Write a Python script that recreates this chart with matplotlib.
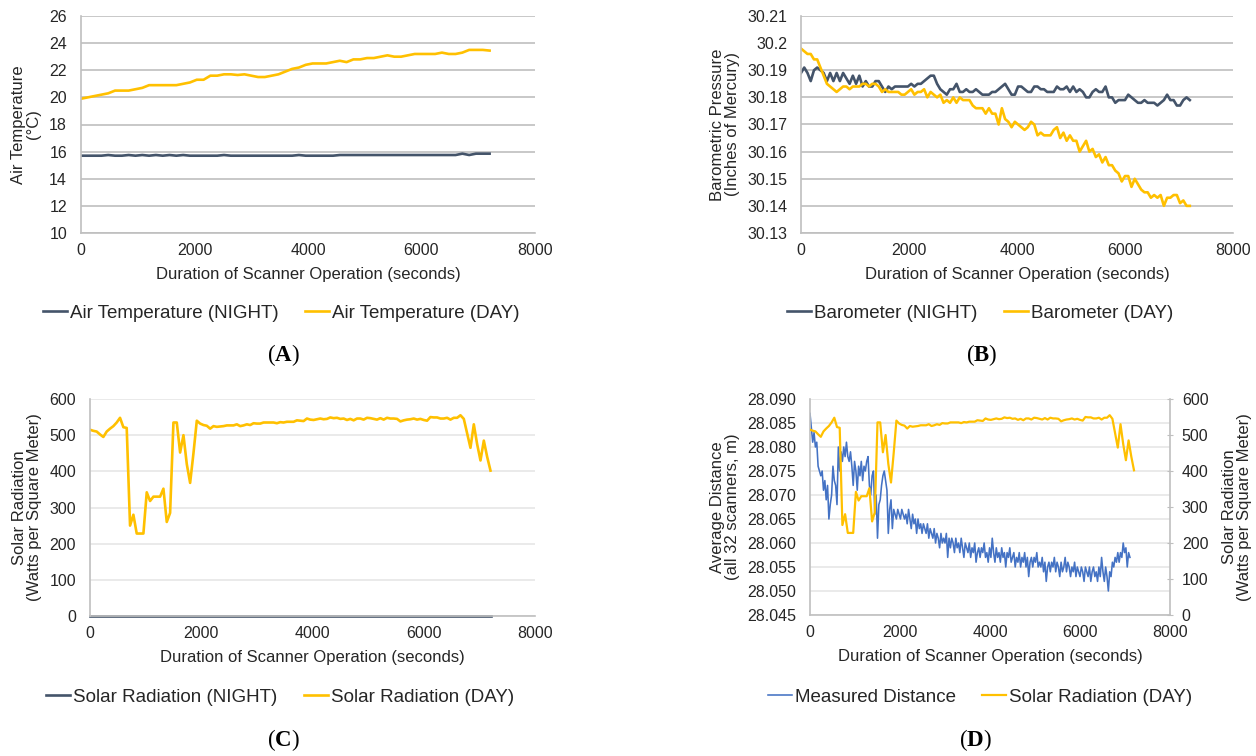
import numpy as np
import matplotlib
matplotlib.use("Agg")
import matplotlib.pyplot as plt
from matplotlib.ticker import FuncFormatter

plt.rcParams["font.family"] = ["Liberation Sans", "DejaVu Sans"]
plt.rcParams["mathtext.fontset"] = "custom"
plt.rcParams["mathtext.rm"] = "Liberation Serif"
plt.rcParams["mathtext.bf"] = "Liberation Serif:bold"

NIGHT = "#44546A"
DAY = "#FFC000"
BLUE = "#4472C4"
TXT = "#262626"

# ---- (A) air temperature, sampled every 120 s ----
t_air = np.arange(0, 7201, 120)
air_day = [19.9, 20.0, 20.1, 20.2, 20.3, 20.5, 20.5, 20.5, 20.6, 20.7,
           20.9, 20.9, 20.9, 20.9, 20.9, 21.0, 21.1, 21.3, 21.3, 21.6,
           21.6, 21.7, 21.7, 21.65, 21.7, 21.6, 21.5, 21.5, 21.6, 21.7,
           21.9, 22.1, 22.2, 22.4, 22.5, 22.5, 22.5, 22.6, 22.7, 22.6,
           22.8, 22.8, 22.9, 22.9, 23.0, 23.1, 23.0, 23.0, 23.1, 23.2,
           23.2, 23.2, 23.2, 23.3, 23.2, 23.2, 23.3, 23.5, 23.5, 23.5,
           23.45]
air_night = [15.7, 15.7, 15.7, 15.7, 15.75, 15.7, 15.7, 15.75, 15.7, 15.75,
             15.7, 15.75, 15.7, 15.75, 15.7, 15.75, 15.7, 15.7, 15.7, 15.7,
             15.7, 15.75, 15.7, 15.7, 15.7, 15.7, 15.7, 15.7, 15.7, 15.7,
             15.7, 15.7, 15.75, 15.7, 15.7, 15.7, 15.7, 15.7, 15.75, 15.75,
             15.75, 15.75, 15.75, 15.75, 15.75, 15.75, 15.75, 15.75, 15.75, 15.75,
             15.75, 15.75, 15.75, 15.75, 15.75, 15.75, 15.85, 15.75, 15.85, 15.85,
             15.85]

# ---- (B) barometer, sampled every 60 s ----
t_baro = np.arange(0, 7201, 60)
baro_night = [30.189, 30.191, 30.189, 30.186, 30.190, 30.191, 30.190, 30.189, 30.186, 30.189,
              30.186, 30.189, 30.186, 30.189, 30.187, 30.185, 30.188, 30.185, 30.188, 30.184,
              30.186, 30.184, 30.184, 30.186, 30.186, 30.184, 30.182, 30.184, 30.183, 30.184,
              30.184, 30.184, 30.184, 30.184, 30.185, 30.184, 30.185, 30.185, 30.186, 30.187,
              30.188, 30.188, 30.185, 30.183, 30.182, 30.181, 30.183, 30.183, 30.185, 30.182,
              30.182, 30.183, 30.182, 30.182, 30.183, 30.182, 30.181, 30.181, 30.181, 30.182,
              30.182, 30.183, 30.184, 30.185, 30.183, 30.181, 30.181, 30.184, 30.184, 30.183,
              30.182, 30.182, 30.184, 30.184, 30.183, 30.183, 30.182, 30.182, 30.182, 30.184,
              30.183, 30.183, 30.184, 30.182, 30.184, 30.182, 30.183, 30.182, 30.180, 30.180,
              30.182, 30.183, 30.182, 30.182, 30.184, 30.180, 30.180, 30.178, 30.179, 30.179,
              30.179, 30.181, 30.180, 30.179, 30.178, 30.178, 30.179, 30.178, 30.178, 30.178,
              30.177, 30.178, 30.179, 30.181, 30.179, 30.179, 30.177, 30.177, 30.179, 30.180,
              30.179]
baro_day = [30.198, 30.197, 30.196, 30.196, 30.194, 30.194, 30.191, 30.188, 30.185, 30.184,
            30.183, 30.182, 30.183, 30.184, 30.184, 30.183, 30.184, 30.184, 30.184, 30.185,
            30.185, 30.184, 30.185, 30.185, 30.184, 30.182, 30.183, 30.182, 30.182, 30.182,
            30.182, 30.181, 30.181, 30.182, 30.183, 30.181, 30.182, 30.182, 30.183, 30.180,
            30.182, 30.181, 30.180, 30.181, 30.178, 30.179, 30.178, 30.180, 30.178, 30.180,
            30.179, 30.179, 30.179, 30.177, 30.176, 30.176, 30.176, 30.174, 30.176, 30.174,
            30.174, 30.170, 30.176, 30.172, 30.171, 30.169, 30.171, 30.170, 30.169, 30.168,
            30.169, 30.171, 30.170, 30.166, 30.167, 30.166, 30.166, 30.166, 30.168, 30.169,
            30.165, 30.167, 30.164, 30.166, 30.164, 30.164, 30.160, 30.162, 30.164, 30.160,
            30.161, 30.158, 30.159, 30.156, 30.158, 30.155, 30.155, 30.153, 30.152, 30.149,
            30.151, 30.151, 30.147, 30.150, 30.148, 30.146, 30.145, 30.145, 30.143, 30.144,
            30.143, 30.144, 30.140, 30.143, 30.143, 30.144, 30.144, 30.141, 30.142, 30.140,
            30.140]

# ---- (C)/(D) solar radiation, sampled every 60 s ----
t_solar = np.arange(0, 7201, 60)
solar_day = [515, 512, 510, 502, 495, 510, 518, 525, 535, 548,
             522, 520, 250, 280, 228, 228, 228, 342, 318, 330,
             330, 330, 352, 260, 285, 535, 535, 452, 500, 420,
             368, 450, 540, 532, 528, 526, 518, 525, 523, 524,
             525, 527, 527, 527, 530, 525, 527, 530, 528, 533,
             532, 532, 535, 535, 535, 535, 533, 536, 535, 537,
             537, 537, 541, 540, 539, 546, 543, 542, 544, 546,
             544, 545, 549, 547, 548, 545, 546, 542, 545, 541,
             546, 546, 543, 548, 547, 545, 543, 547, 543, 548,
             546, 546, 545, 538, 541, 543, 544, 546, 543, 545,
             542, 540, 550, 549, 549, 546, 546, 548, 543, 548,
             548, 555, 545, 505, 465, 530, 475, 430, 485, 440,
             402]
solar_night = [0] * len(solar_day)

# ---- (D) measured distance, sampled every 30 s ----
t_dist = np.arange(0, 7111, 30)
dist = [28.087, 28.084, 28.081, 28.083, 28.080, 28.081, 28.076, 28.075, 28.074, 28.075,
        28.071, 28.073, 28.069, 28.072, 28.065, 28.068, 28.070, 28.076, 28.073, 28.072,
        28.068, 28.080, 28.075, 28.079, 28.077, 28.080, 28.078, 28.081, 28.078, 28.077,
        28.079, 28.076, 28.072, 28.077, 28.075, 28.071, 28.076, 28.074, 28.077, 28.073,
        28.076, 28.075, 28.077, 28.078, 28.072, 28.070, 28.074, 28.075, 28.066, 28.070,
        28.061, 28.068, 28.069, 28.072, 28.074, 28.075, 28.073, 28.071, 28.062, 28.067,
        28.069, 28.063, 28.067, 28.066, 28.065, 28.067, 28.066, 28.065, 28.067, 28.066,
        28.065, 28.066, 28.064, 28.067, 28.065, 28.063, 28.066, 28.064, 28.065, 28.062,
        28.065, 28.063, 28.064, 28.062, 28.064, 28.063, 28.062, 28.064, 28.061, 28.063,
        28.062, 28.061, 28.063, 28.060, 28.062, 28.061, 28.059, 28.062, 28.060, 28.061,
        28.060, 28.062, 28.057, 28.061, 28.059, 28.061, 28.060, 28.058, 28.061, 28.059,
        28.060, 28.058, 28.061, 28.059, 28.057, 28.060, 28.059, 28.058, 28.060, 28.057,
        28.059, 28.058, 28.060, 28.056, 28.058, 28.059, 28.057, 28.059, 28.058, 28.060,
        28.057, 28.058, 28.056, 28.059, 28.057, 28.061, 28.058, 28.056, 28.059, 28.057,
        28.058, 28.056, 28.059, 28.057, 28.058, 28.055, 28.058, 28.057, 28.059, 28.056,
        28.057, 28.058, 28.055, 28.057, 28.056, 28.058, 28.055, 28.057, 28.056, 28.058,
        28.055, 28.057, 28.053, 28.056, 28.057, 28.055, 28.057, 28.056, 28.058, 28.055,
        28.056, 28.055, 28.057, 28.054, 28.056, 28.052, 28.055, 28.056, 28.054, 28.056,
        28.055, 28.057, 28.054, 28.056, 28.055, 28.053, 28.056, 28.054, 28.055, 28.057,
        28.054, 28.056, 28.055, 28.053, 28.055, 28.054, 28.056, 28.053, 28.055, 28.054,
        28.053, 28.055, 28.054, 28.052, 28.055, 28.054, 28.053, 28.055, 28.052, 28.054,
        28.055, 28.053, 28.054, 28.052, 28.055, 28.053, 28.057, 28.054, 28.052, 28.055,
        28.053, 28.050, 28.054, 28.053, 28.056, 28.055, 28.057, 28.056, 28.058, 28.056,
        28.058, 28.057, 28.060, 28.058, 28.059, 28.055, 28.058, 28.057]

W, H = 1256, 756
fig = plt.figure(figsize=(W / 100, H / 100), dpi=100)


def box(left, top, right, bottom):
    return [left / W, 1 - bottom / H, (right - left) / W, (bottom - top) / H]


def style(ax, grid_color):
    for s in ["top", "right"]:
        ax.spines[s].set_visible(False)
    for s in ["left", "bottom"]:
        ax.spines[s].set_color("#BFBFBF")
        ax.spines[s].set_linewidth(1.2)
    ax.grid(axis="y", color=grid_color, linewidth=1.2)
    ax.set_axisbelow(True)
    ax.tick_params(length=0, labelsize=11.5, colors=TXT)
    ax.tick_params(axis="y", pad=10)
    ax.tick_params(axis="x", pad=7)
    ax.set_xlim(0, 8000)
    ax.set_xticks([0, 2000, 4000, 6000, 8000])
    ax.set_xlabel("Duration of Scanner Operation (seconds)", fontsize=12,
                  color=TXT, labelpad=6.5)


def legend(ax, handles, xc, yc):
    ax.legend(handles=handles, loc="center", ncol=2, frameon=False,
              bbox_to_anchor=(xc / W, 1 - yc / H), bbox_transform=fig.transFigure,
              fontsize=13.5, handlelength=1.3, handletextpad=0.15, columnspacing=1.4,
              labelcolor=TXT)


def panel_tag(letter, xc, yc):
    fig.text(xc / W, 1 - yc / H, r"$\mathrm{(}\mathbf{%s}\mathrm{)}$" % letter,
             ha="center", va="center", fontsize=16.5, color="black")


# (A)
ax = fig.add_axes(box(81, 16, 535, 233))
style(ax, "#BFBFBF")
n1, = ax.plot(t_air, air_night, color=NIGHT, lw=1.9, label="Air Temperature (NIGHT)")
d1, = ax.plot(t_air, air_day, color=DAY, lw=1.9, label="Air Temperature (DAY)")
ax.set_ylim(10, 26)
ax.set_yticks(range(10, 27, 2))
ax.set_ylabel("Air Temperature\n(°C)", fontsize=12, color=TXT, linespacing=1.0, labelpad=6)
legend(ax, [n1, d1], 281, 313)
panel_tag("A", 283, 355)

# (B)
ax = fig.add_axes(box(801, 16, 1233, 233))
style(ax, "#BFBFBF")
n2, = ax.plot(t_baro, baro_night, color=NIGHT, lw=1.9, label="Barometer (NIGHT)")
d2, = ax.plot(t_baro, baro_day, color=DAY, lw=1.9, label="Barometer (DAY)")
ax.set_ylim(30.13, 30.21)
ax.set_yticks(np.linspace(30.13, 30.21, 9))
ax.yaxis.set_major_formatter(FuncFormatter(lambda v, p: f"{round(v, 2):g}"))
ax.set_ylabel("Barometric Pressure\n(Inches of Mercury)", fontsize=12, color=TXT,
              linespacing=1.0, labelpad=5)
legend(ax, [n2, d2], 980, 313)
panel_tag("B", 982, 355)

# (C)
ax = fig.add_axes(box(90, 399, 535, 616))
style(ax, "#E6E6E6")
n3, = ax.plot(t_solar, solar_night, color=NIGHT, lw=1.9, clip_on=False,
              label="Solar Radiation (NIGHT)")
d3, = ax.plot(t_solar, solar_day, color=DAY, lw=1.9, label="Solar Radiation (DAY)")
ax.set_ylim(0, 600)
ax.set_yticks(range(0, 601, 100))
ax.set_ylabel("Solar Radiation\n(Watts per Square Meter)", fontsize=12, color=TXT,
              linespacing=1.0, labelpad=5)
legend(ax, [n3, d3], 280, 697)
panel_tag("C", 283, 740)

# (D)
ax = fig.add_axes(box(810, 399, 1170, 615))
style(ax, "#E6E6E6")
b4, = ax.plot(t_dist, dist, color=BLUE, lw=1.15, label="Measured Distance")
ax.set_ylim(28.045, 28.090)
ax.set_yticks(np.linspace(28.045, 28.090, 10))
ax.yaxis.set_major_formatter(FuncFormatter(lambda v, p: f"{v:.3f}"))
ax.set_ylabel("Average Distance\n(all 32 scanners, m)", fontsize=12, color=TXT,
              linespacing=1.0, labelpad=5)
ax2 = ax.twinx()
for s in ["top", "left", "bottom"]:
    ax2.spines[s].set_visible(False)
ax2.spines["right"].set_color("#BFBFBF")
ax2.spines["right"].set_linewidth(1.2)
d4, = ax2.plot(t_solar, solar_day, color=DAY, lw=1.6, label="Solar Radiation (DAY)")
ax2.set_ylim(0, 600)
ax2.set_yticks(range(0, 601, 100))
ax2.tick_params(axis="y", length=5, direction="inout", color="#BFBFBF",
                labelsize=11.5, labelcolor=TXT, pad=6)
ax2.set_ylabel("Solar Radiation\n(Watts per Square Meter)", fontsize=12, color=TXT,
               linespacing=1.0, labelpad=10)
legend(ax, [b4, d4], 980, 697)
panel_tag("D", 975, 740)

fig.savefig("out.png", dpi=100, facecolor="white")
